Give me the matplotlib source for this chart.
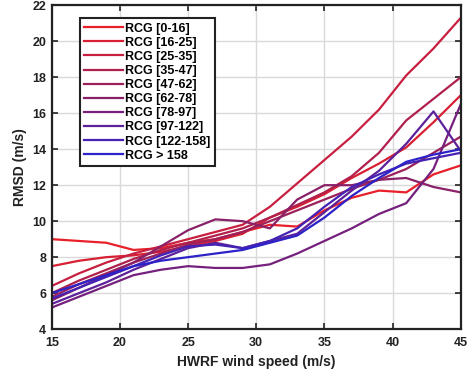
import numpy as np
import matplotlib.pyplot as plt

plt.rcParams['font.family'] = ['Liberation Sans', 'DejaVu Sans']

# HWRF wind speed bins (m/s)
wind = [15, 17, 19, 21, 23, 25, 27, 29, 31, 33, 35, 37, 39, 41, 43, 45]

labels = ['RCG [0-16]', 'RCG [16-25]', 'RCG [25-35]', 'RCG [35-47]', 'RCG [47-62]',
          'RCG [62-78]', 'RCG [78-97]', 'RCG [97-122]', 'RCG [122-158]', 'RCG > 158']

rcg_0_16 = [9.0, 8.9, 8.8, 8.4, 8.5, 8.8, 9.0, 9.4, 9.8, 9.7, 10.6, 11.3, 11.7, 11.6, 12.6, 13.1]
rcg_16_25 = [7.5, 7.8, 8.0, 8.1, 8.3, 8.6, 8.9, 9.3, 10.2, 10.8, 11.5, 12.4, 13.2, 14.1, 15.5, 17.0]
rcg_25_35 = [6.4, 7.1, 7.7, 8.2, 8.6, 9.0, 9.4, 9.8, 10.8, 12.1, 13.4, 14.7, 16.2, 18.1, 19.6, 21.3]
rcg_35_47 = [6.0, 6.7, 7.3, 7.9, 8.4, 8.8, 9.2, 9.6, 10.2, 10.9, 11.6, 12.5, 13.8, 15.6, 16.8, 18.0]
rcg_47_62 = [5.8, 6.5, 7.1, 7.7, 8.2, 8.7, 9.0, 9.4, 10.0, 10.6, 11.2, 11.8, 12.3, 12.9, 13.8, 14.7]
rcg_62_78 = [5.6, 6.3, 7.0, 7.7, 8.6, 9.5, 10.1, 10.0, 9.6, 11.2, 12.0, 12.0, 12.3, 12.4, 11.9, 11.6]
rcg_78_97 = [5.2, 5.8, 6.4, 7.0, 7.3, 7.5, 7.4, 7.4, 7.6, 8.2, 8.9, 9.6, 10.4, 11.0, 12.9, 16.5]
rcg_97_122 = [5.4, 6.0, 6.6, 7.3, 7.9, 8.5, 8.8, 8.5, 8.9, 9.3, 10.5, 11.7, 12.8, 14.3, 16.1, 13.9]
rcg_122_158 = [5.7, 6.3, 6.9, 7.5, 8.1, 8.6, 8.7, 8.5, 8.9, 9.6, 10.8, 11.9, 12.6, 13.2, 13.5, 13.8]
rcg_158 = [6.0, 6.5, 7.0, 7.5, 7.8, 8.0, 8.2, 8.4, 8.8, 9.2, 10.2, 11.4, 12.4, 13.3, 13.7, 14.0]

series = [rcg_0_16, rcg_16_25, rcg_25_35, rcg_35_47, rcg_47_62,
          rcg_62_78, rcg_78_97, rcg_97_122, rcg_122_158, rcg_158]

colors = ['#e8202a', '#d82034', '#c81f40', '#b0204c', '#9c205a',
          '#8a2068', '#74207c', '#5c219a', '#4422b4', '#2c22c8']

fig = plt.figure(figsize=(4.75, 3.77), dpi=100)
ax = fig.add_axes([0.109, 0.127, 0.861, 0.859])

for vals, lab, c in zip(series, labels, colors):
    ax.plot(wind, vals, color=c, linewidth=1.6, label=lab)

ax.set_xlim(15, 45)
ax.set_ylim(4, 22)
ax.set_xticks(np.arange(15, 46, 5))
ax.set_yticks(np.arange(4, 23, 2))
ax.grid(True, color='#d9d9d9', linewidth=1.0)
ax.set_axisbelow(True)
ax.tick_params(direction='in', top=True, right=True, length=4, width=1.2,
               labelsize=9, colors='#222222')
ax.tick_params(axis='x', pad=6)
ax.tick_params(axis='y', pad=4)
for lbl in ax.get_xticklabels() + ax.get_yticklabels():
    lbl.set_fontweight('bold')
for sp in ax.spines.values():
    sp.set_linewidth(1.6)
    sp.set_color('#222222')

ax.set_xlabel('HWRF wind speed (m/s)', fontsize=10, fontweight='bold', color='#222222', labelpad=4)
ax.set_ylabel('RMSD (m/s)', fontsize=10, fontweight='bold', color='#222222', labelpad=4)

leg = ax.legend(loc='upper left', bbox_to_anchor=(0.068, 0.96), borderaxespad=0,
                fancybox=False, framealpha=1, edgecolor='#222222',
                prop={'size': 9, 'weight': 'bold'}, labelspacing=0.17,
                handlelength=3.1, handletextpad=0.2, borderpad=0.35)
leg.get_frame().set_linewidth(1.5)

fig.savefig('out.png', dpi=100)
